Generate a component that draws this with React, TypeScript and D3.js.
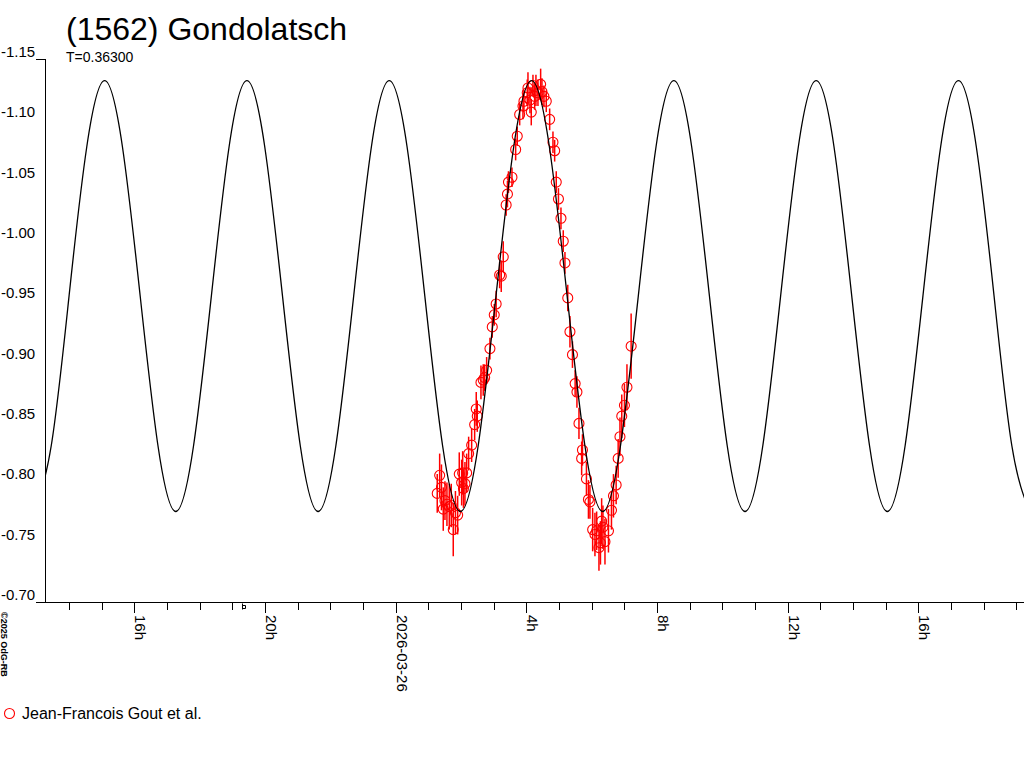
import React from 'react';
import * as d3 from 'd3';

const TITLE = '(1562) Gondolatsch';
const PERIOD_LABEL = 'T=0.36300';
const LEGEND_LABEL = 'Jean-Francois Gout et al.';
const COPYRIGHT = '\u00A92025 OdG-RB';

// time axis: hours relative to 2026-03-26 00:00 UTC
const X_DOMAIN_HOURS = [-10.733, 19.233];
const Y_TICKS = [-1.15, -1.1, -1.05, -1.0, -0.95, -0.9, -0.85, -0.8, -0.75, -0.7];

// model lightcurve
const modelHours = [
  -11.086, -10.542, -9.997, -9.453, -8.908, -8.364, -7.819, -7.275,
  -6.73, -6.186, -5.641, -5.097, -4.552, -4.008, -3.463, -2.919,
  -2.374, -1.83, -1.285, -0.741, -0.196, 0.348, 0.893, 1.437,
  1.982, 2.526, 3.071, 3.615, 4.16, 4.704, 5.249, 5.793,
  6.338, 6.882, 7.427, 7.971, 8.516, 9.06, 9.605, 10.149,
  10.694, 11.238, 11.783, 12.327, 12.872, 13.416, 13.961, 14.505,
  15.05, 15.594, 16.139, 16.683, 17.228, 17.772, 18.317, 18.861, 19.406,
];
const modelMags = [
  -0.775, -0.8295, -0.9535, -1.0775, -1.132, -1.0775, -0.9535, -0.8295,
  -0.775, -0.8295, -0.9535, -1.0775, -1.132, -1.0775, -0.9535, -0.8295,
  -0.775, -0.8295, -0.9535, -1.0775, -1.132, -1.0775, -0.9535, -0.8295,
  -0.775, -0.8295, -0.9535, -1.0775, -1.132, -1.0775, -0.9535, -0.8295,
  -0.775, -0.8295, -0.9535, -1.0775, -1.132, -1.0775, -0.9535, -0.8295,
  -0.775, -0.8295, -0.9535, -1.0775, -1.132, -1.0775, -0.9535, -0.8295,
  -0.775, -0.8295, -0.9535, -1.0775, -1.132, -1.0775, -0.9535, -0.8295, -0.775,
];

// observations (Jean-Francois Gout et al.)
const obsHours = [
  1.273, 1.347, 1.402, 1.457, 1.509, 1.57, 1.641, 1.702, 1.763, 1.83,
  1.898, 1.947, 2.02, 2.051, 2.075, 2.121, 2.173, 2.234, 2.326, 2.418,
  2.467, 2.498, 2.611, 2.681, 2.724, 2.785, 2.886, 2.957, 3.018, 3.076,
  3.183, 3.232, 3.293, 3.382, 3.422, 3.453, 3.56, 3.673, 3.722, 3.796,
  3.897, 3.927, 4.028, 4.05, 4.111, 4.151, 4.203, 4.255, 4.294, 4.356,
  4.438, 4.478, 4.539, 4.61, 4.714, 4.815, 4.867, 4.916, 4.983, 5.06,
  5.13, 5.182, 5.268, 5.335, 5.412, 5.494, 5.549, 5.611, 5.693, 5.718,
  5.84, 5.901, 5.947, 6.03, 6.1, 6.152, 6.223, 6.269, 6.305, 6.345,
  6.407, 6.514, 6.606, 6.667, 6.749, 6.811, 6.866, 6.921, 7.003, 7.08, 7.208,
];
const obsMags = [
  -0.790, -0.805, -0.795, -0.777, -0.784, -0.781, -0.779, -0.780, -0.760, -0.774,
  -0.772, -0.806, -0.799, -0.807, -0.794, -0.798, -0.807, -0.823, -0.830, -0.847,
  -0.860, -0.854, -0.882, -0.884, -0.886, -0.892, -0.910, -0.928, -0.938, -0.947,
  -0.971, -0.970, -0.986, -1.029, -1.038, -1.048, -1.052, -1.075, -1.086, -1.104,
  -1.111, -1.115, -1.122, -1.126, -1.116, -1.106, -1.128, -1.119, -1.124, -1.122,
  -1.129, -1.123, -1.119, -1.115, -1.100, -1.081, -1.074, -1.048, -1.034, -1.018,
  -0.999, -0.981, -0.952, -0.924, -0.905, -0.881, -0.874, -0.848, -0.819, -0.826,
  -0.802, -0.785, -0.783, -0.760, -0.756, -0.759, -0.745, -0.749, -0.767, -0.762,
  -0.750, -0.759, -0.776, -0.788, -0.797, -0.819, -0.837, -0.854, -0.863, -0.878, -0.912,
];
const obsErrs = [
  0.016, 0.018, 0.019, 0.018, 0.016, 0.018, 0.019, 0.018, 0.022, 0.018,
  0.016, 0.018, 0.019, 0.018, 0.016, 0.018, 0.016, 0.014, 0.014, 0.013,
  0.014, 0.013, 0.014, 0.013, 0.011, 0.011, 0.009, 0.009, 0.009, 0.011,
  0.011, 0.013, 0.013, 0.009, 0.011, 0.009, 0.008, 0.009, 0.008, 0.009,
  0.011, 0.009, 0.011, 0.013, 0.011, 0.011, 0.009, 0.011, 0.013, 0.011,
  0.013, 0.011, 0.009, 0.009, 0.009, 0.009, 0.009, 0.009, 0.009, 0.009,
  0.009, 0.009, 0.011, 0.013, 0.011, 0.011, 0.013, 0.013, 0.014, 0.013,
  0.014, 0.016, 0.014, 0.018, 0.018, 0.016, 0.019, 0.018, 0.019, 0.018,
  0.019, 0.018, 0.016, 0.018, 0.016, 0.016, 0.016, 0.018, 0.018, 0.019, 0.027,
];

const BASE = Date.UTC(2026, 2, 26, 0, 0, 0);
const toDate = (h: number) => new Date(BASE + h * 3600 * 1000);

const FONT = '"Liberation Sans", Arial, sans-serif';

export default function App() {
  const left = 45;
  const right = 1024;
  const top = 59;
  const bottom = 602;

  const x = d3.scaleUtc().domain(X_DOMAIN_HOURS.map(toDate)).range([left, right]);
  const y = d3.scaleLinear().domain([-1.15, -0.7]).range([top, bottom]);

  const model = modelHours.map((h, i) => ({ d: toDate(h), m: modelMags[i] }));
  const line = d3
    .line<{ d: Date; m: number }>()
    .x((p) => x(p.d))
    .y((p) => y(p.m))
    .curve(d3.curveNatural);

  const obs = obsHours.map((h, i) => ({ d: toDate(h), m: obsMags[i], e: obsErrs[i] }));

  const hourTicks = x.ticks(d3.utcHour.every(1) as any);
  const dateFmt = d3.utcFormat('%Y-%m-%d');

  return (
    <svg
      width={1024}
      height={768}
      style={{ position: 'absolute', left: 0, top: 0, background: '#fff' }}
      fontFamily={FONT}
    >
      <rect x={0} y={0} width={1024} height={768} fill="#fff" />
      <defs>
        <clipPath id="plot">
          <rect x={left} y={0} width={right - left} height={bottom} />
        </clipPath>
      </defs>

      {/* title */}
      <text x={66} y={40} fontSize={32} fill="#000">{TITLE}</text>
      <text x={66} y={62} fontSize={14} fill="#000">{PERIOD_LABEL}</text>

      {/* y axis */}
      <line x1={left} y1={top} x2={left} y2={bottom} stroke="#000" strokeWidth={1} shapeRendering="crispEdges" />
      <line x1={36} y1={top} x2={left} y2={top} stroke="#000" strokeWidth={1} shapeRendering="crispEdges" />
      {Y_TICKS.map((v) => (
        <text key={v} x={1} y={y(v) - 2} fontSize={15} fill="#000">
          {v.toFixed(2)}
        </text>
      ))}

      {/* x axis */}
      <line x1={36} y1={bottom} x2={right} y2={bottom} stroke="#000" strokeWidth={1} shapeRendering="crispEdges" />
      {hourTicks.map((d) => {
        const h = d.getUTCHours();
        const major = h % 4 === 0;
        const px = Math.round(x(d)) + 0.5;
        return (
          <g key={d.getTime()}>
            <line x1={px} y1={bottom} x2={px} y2={bottom + (major ? 11 : 8)} stroke="#000" strokeWidth={1} />
            {major && (
              <text
                transform={`translate(${px + 0.5},${bottom + 13}) rotate(90)`}
                fontSize={15}
                fill="#000"
              >
                {h === 0 ? dateFmt(d) : `${h}h`}
              </text>
            )}
          </g>
        );
      })}
      <path d="M242.5,603.5 V609.5 M242.5,605.5 H245.5 V608.5 H242.5" fill="none" stroke="#000" strokeWidth={1} />

      {/* copyright */}
      <text transform="translate(1,612) rotate(90)" fontSize={9} fontWeight="bold" fill="#000">{COPYRIGHT}</text>

      {/* observations */}
      <g clipPath="url(#plot)">
        {obs.map((p, i) => (
          <line
            key={'e' + i}
            x1={x(p.d)}
            x2={x(p.d)}
            y1={y(p.m - p.e)}
            y2={y(p.m + p.e)}
            stroke="#ff0000"
            strokeWidth={1.5}
          />
        ))}
        {obs.map((p, i) => (
          <circle key={'c' + i} cx={x(p.d)} cy={y(p.m)} r={5} fill="none" stroke="#ff0000" strokeWidth={1.1} />
        ))}
        <path d={line(model) || ''} fill="none" stroke="#000" strokeWidth={1.3} />
      </g>

      {/* legend */}
      <circle cx={9.5} cy={713.5} r={5} fill="none" stroke="#ff0000" strokeWidth={1.1} />
      <text x={22} y={718.5} fontSize={16} fill="#000">{LEGEND_LABEL}</text>
    </svg>
  );
}
